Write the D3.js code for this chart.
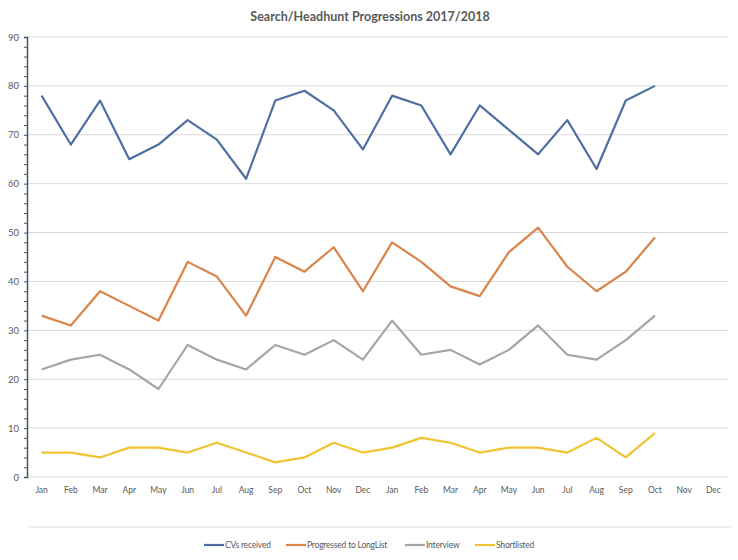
<!DOCTYPE html>
<html>
<head>
<meta charset="utf-8">
<script src="https://cdn.jsdelivr.net/npm/d3@7"></script>
<style>
  body { margin: 0; background: #fff; }
  svg text { font-family: Lato, "Open Sans", sans-serif; fill: #595959; }
</style>
</head>
<body>
<div id="chart"></div>
<script>
// chart data
var months = ["Jan", "Feb", "Mar", "Apr", "May", "Jun", "Jul", "Aug", "Sep", "Oct", "Nov", "Dec",
              "Jan", "Feb", "Mar", "Apr", "May", "Jun", "Jul", "Aug", "Sep", "Oct", "Nov", "Dec"];
var cvsReceived = [78, 68, 77, 65, 68, 73, 69, 61, 77, 79, 75, 67, 78, 76, 66, 76, 71, 66, 73, 63, 77, 80];
var longList    = [33, 31, 38, 35, 32, 44, 41, 33, 45, 42, 47, 38, 48, 44, 39, 37, 46, 51, 43, 38, 42, 49];
var interview   = [22, 24, 25, 22, 18, 27, 24, 22, 27, 25, 28, 24, 32, 25, 26, 23, 26, 31, 25, 24, 28, 33];
var shortlisted = [5, 5, 4, 6, 6, 5, 7, 5, 3, 4, 7, 5, 6, 8, 7, 5, 6, 6, 5, 8, 4, 9];
var yTicks = [0, 10, 20, 30, 40, 50, 60, 70, 80, 90];

var series = [
    { name: "CVs received", values: cvsReceived, color: "#4f6fa3" },
    { name: "Progressed to LongList", values: longList, color: "#d9844a" },
    { name: "Interview", values: interview, color: "#a5a5a5" },
    { name: "Shortlisted", values: shortlisted, color: "#f0c330" }
];

var svgWidth = 738;
var svgHeight = 560;

var margin = { top: 37, right: 10, bottom: 83, left: 27 };
var width = svgWidth - margin.left - margin.right;
var height = svgHeight - margin.top - margin.bottom;

var svg = d3.select("#chart")
    .append("svg")
    .attr("width", svgWidth)
    .attr("height", svgHeight);

var chartGroup = svg.append("g")
    .attr("transform", `translate(${margin.left}, ${margin.top})`);

// scales
var xScale = d3.scaleBand()
    .domain(d3.range(months.length))
    .range([0, width]);

var yScale = d3.scaleLinear()
    .domain([0, 90])
    .range([height, 0]);

// gridlines
chartGroup.append("g")
    .selectAll("line")
    .data(yTicks.filter(d => d > 0))
    .enter()
    .append("line")
    .attr("x1", 0)
    .attr("x2", width)
    .attr("y1", d => yScale(d))
    .attr("y2", d => yScale(d))
    .attr("stroke", "#d9d9d9")
    .attr("stroke-width", 1);

// x axis baseline
chartGroup.append("line")
    .attr("x1", 0)
    .attr("x2", width)
    .attr("y1", height)
    .attr("y2", height)
    .attr("stroke", "#d9d9d9");

// y axis with minor ticks
var minorAxis = d3.axisLeft(yScale)
    .tickValues(d3.range(0, 91, 2))
    .tickSize(3)
    .tickFormat("");
chartGroup.append("g")
    .call(minorAxis)
    .call(g => g.selectAll("line").attr("stroke", "#44546a"))
    .call(g => g.select(".domain").attr("stroke", "#44546a").attr("stroke-width", 1.5));

var leftAxis = d3.axisLeft(yScale)
    .tickValues(yTicks)
    .tickSize(0)
    .tickPadding(8);
chartGroup.append("g")
    .call(leftAxis)
    .call(g => g.select(".domain").remove())
    .selectAll("text")
    .attr("font-size", "9.5px")
    .style("font-family", "Lato, sans-serif")
    .attr("fill", "#595959");

// x axis labels
var bottomAxis = d3.axisBottom(xScale)
    .tickSize(0)
    .tickPadding(10)
    .tickFormat(i => months[i]);
chartGroup.append("g")
    .attr("transform", `translate(0, ${height})`)
    .call(bottomAxis)
    .call(g => g.select(".domain").remove())
    .selectAll("text")
    .attr("font-size", "8.5px")
    .style("font-family", "Lato, sans-serif")
    .attr("fill", "#595959");

// lines
var line = d3.line()
    .x((d, i) => xScale(i) + xScale.bandwidth() / 2)
    .y(d => yScale(d));

chartGroup.selectAll(".series")
    .data(series)
    .enter()
    .append("path")
    .attr("class", "series")
    .attr("fill", "none")
    .attr("stroke", d => d.color)
    .attr("stroke-width", 2.2)
    .attr("stroke-linejoin", "round")
    .attr("d", d => line(d.values));

// title
svg.append("text")
    .attr("x", 370)
    .attr("y", 21)
    .attr("text-anchor", "middle")
    .attr("font-size", "12.5px")
    .attr("font-weight", "bold")
    .text("Search/Headhunt Progressions 2017/2018");

// separator above legend
svg.append("line")
    .attr("x1", 29)
    .attr("x2", 731)
    .attr("y1", 527)
    .attr("y2", 527)
    .attr("stroke", "#d9d9d9");

// legend
var legendX = [204, 286, 405, 475];
var legend = svg.append("g");
series.forEach(function(s, i) {
    legend.append("line")
        .attr("x1", legendX[i])
        .attr("x2", legendX[i] + 20)
        .attr("y1", 545)
        .attr("y2", 545)
        .attr("stroke", s.color)
        .attr("stroke-width", 2.2);
    legend.append("text")
        .attr("x", legendX[i] + 21)
        .attr("y", 548)
        .attr("font-size", "8.5px")
        .attr("letter-spacing", "-0.2px")
        .text(s.name);
});
</script>
</body>
</html>
